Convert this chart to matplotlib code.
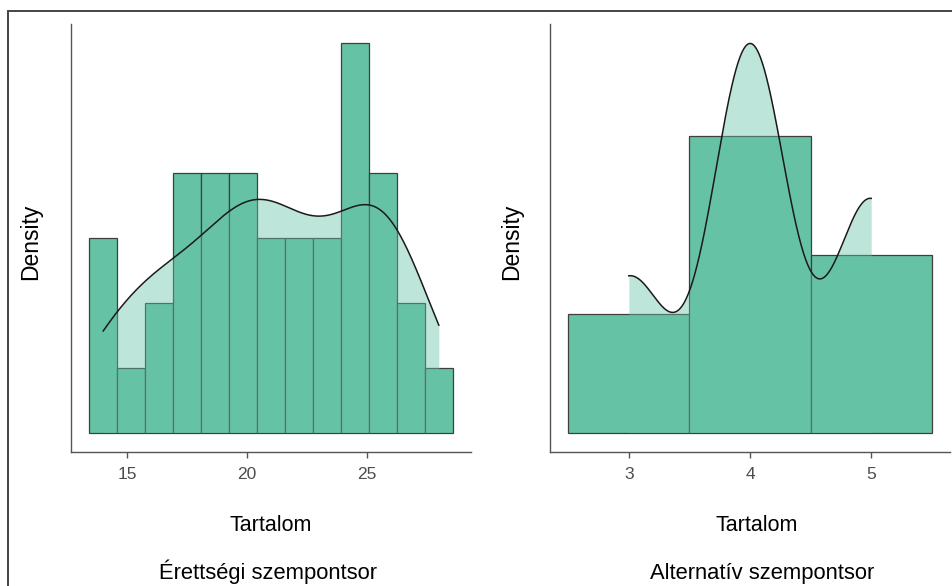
import numpy as np
import matplotlib
matplotlib.use("Agg")
import matplotlib.pyplot as plt
from matplotlib.patches import Rectangle

plt.rcParams['font.family'] = ['Liberation Sans', 'DejaVu Sans']

# --------- adatok (pontszámok és gyakoriságok) ---------
erettsegi_values = [14, 15, 16, 17, 19, 20, 21, 22, 23, 25, 26, 27, 28]
erettsegi_counts = [3, 1, 2, 4, 4, 4, 3, 3, 3, 6, 4, 2, 1]
erettsegi_bins = 13

alternativ_values = [3, 4, 5]
alternativ_counts = [8, 20, 12]
alternativ_bins = 3

x_label = "Tartalom"
y_label = "Density"
captions = ["Érettségi szempontsor", "Alternatív szempontsor"]
x_ticks = [[15, 20, 25], [3, 4, 5]]

BAR = "#66c2a5"
EDGE = "#3f3f3f"
AXIS = "#555555"


def bw_nrd0(x):
    # R bw.nrd0
    sd = np.std(x, ddof=1)
    q1, q3 = np.percentile(x, [25, 75])
    lo = min(sd, (q3 - q1) / 1.34)
    return 0.9 * lo * len(x) ** (-0.2)


def kde(x, grid):
    h = bw_nrd0(x)
    z = (grid[:, None] - x[None, :]) / h
    return np.exp(-0.5 * z ** 2).sum(axis=1) / (len(x) * h * np.sqrt(2 * np.pi))


def hist_panel(ax, values, counts, nbins, ticks):
    x = np.repeat(np.array(values, dtype=float), counts)
    lo, hi = x.min(), x.max()
    width = (hi - lo) / (nbins - 1)
    edges = lo - width / 2 + width * np.arange(nbins + 1)
    cnt, _ = np.histogram(x, bins=edges)
    dens = cnt / (len(x) * width)
    ax.bar(edges[:-1], dens, width=width, align="edge", color=BAR,
           edgecolor=EDGE, linewidth=0.9, zorder=2)

    grid = np.linspace(lo, hi, 512)
    d = kde(x, grid)
    ax.fill_between(grid, 0, d, color=BAR, alpha=0.42, linewidth=0, zorder=3)
    ax.plot(grid, d, color="#1a1a1a", linewidth=1.1, zorder=4)

    ymax = max(dens.max(), d.max())
    ax.set_ylim(-0.05 * ymax, 1.05 * ymax)
    span = edges[-1] - edges[0]
    ax.set_xlim(edges[0] - 0.05 * span, edges[-1] + 0.05 * span)

    ax.set_yticks([])
    ax.set_xticks(ticks)
    ax.set_xticklabels([str(t) for t in ticks])
    ax.tick_params(axis="x", colors=AXIS, labelcolor="#4d4d4d", labelsize=12.5,
                   length=4, width=1.0, pad=7)
    for s in ("top", "right"):
        ax.spines[s].set_visible(False)
    for s in ("left", "bottom"):
        ax.spines[s].set_color(AXIS)
        ax.spines[s].set_linewidth(1.0)


W, H = 952, 586
fig = plt.figure(figsize=(W / 100, H / 100), dpi=100)

# panelek helye pixelben: bal, jobb, felső, alsó
boxes = [(71, 471, 24, 452), (550, 950, 24, 452)]
axes = []
for (l, r, t, b) in boxes:
    axes.append(fig.add_axes([l / W, 1 - b / H, (r - l) / W, (b - t) / H]))

hist_panel(axes[0], erettsegi_values, erettsegi_counts, erettsegi_bins, x_ticks[0])
hist_panel(axes[1], alternativ_values, alternativ_counts, alternativ_bins, x_ticks[1])

# tengelyfeliratok és alcímek
for xc, ylx in [(271, 31), (757, 512)]:
    fig.text(xc / W, 1 - 531 / H, x_label, ha="center", va="baseline", fontsize=15.5)
    fig.text(ylx / W, 1 - 242 / H, y_label, ha="center", va="center",
             rotation=90, fontsize=16.5)
fig.text(268 / W, 1 - 579 / H, captions[0], ha="center", va="baseline", fontsize=15.8)
fig.text(762 / W, 1 - 579 / H, captions[1], ha="center", va="baseline", fontsize=15.8)

# keret a teljes ábra körül
fig.patches.append(Rectangle((8 / W, -0.1), 1.5, 1.1 - 11 / H, transform=fig.transFigure,
                             fill=False, edgecolor="#444444", linewidth=1.4))

fig.savefig("out.png", dpi=100)
